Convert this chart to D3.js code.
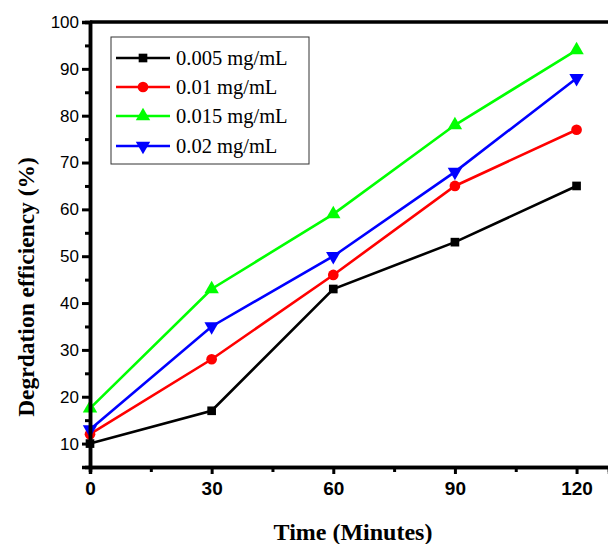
<!DOCTYPE html>
<html>
<head>
<meta charset="utf-8">
<script src="https://cdn.jsdelivr.net/npm/d3@7"></script>
<style>
  body { margin: 0; background: #fff; }
  svg { display: block; }
</style>
</head>
<body>
<div id="chart"></div>
<script>
// --- DATOS ---
const times = [0, 30, 60, 90, 120];
const seriesNames = ["0.005 mg/mL", "0.01 mg/mL", "0.015 mg/mL", "0.02 mg/mL"];
const conc005 = [10, 17, 43, 53, 65];
const conc01 = [12, 28, 46, 65, 77];
const conc015 = [17.5, 43, 59, 78, 94];
const conc02 = [13, 35, 50, 68, 88];
const xTicks = [0, 30, 60, 90, 120];
const yTicks = [10, 20, 30, 40, 50, 60, 70, 80, 90, 100];

const seriesValues = [conc005, conc01, conc015, conc02];
const colors = ["#000000", "#ff0000", "#00ff00", "#0000ff"];
const symbols = [d3.symbolSquare, d3.symbolCircle, d3.symbolTriangle, "down"];

const width = 608, height = 544;
const svg = d3.select("#chart").append("svg")
    .attr("width", width).attr("height", height);

// Escalas
const x = d3.scaleLinear().domain([0, 128]).range([90, 609]);
const y = d3.scaleLinear().domain([5, 100]).range([467, 22]);

// marcador
function marker(g, type, color, size) {
    if (type === "down") {
        g.append("path")
            .attr("d", d3.symbol(d3.symbolTriangle, size)())
            .attr("transform", "rotate(180)")
            .attr("fill", color);
    } else {
        g.append("path")
            .attr("d", d3.symbol(type, size)())
            .attr("fill", color);
    }
}

// --- SERIES ---
const line = d3.line().x((d, i) => x(times[i])).y(d => y(d));
seriesValues.forEach((vals, k) => {
    svg.append("path")
        .datum(vals)
        .attr("d", line)
        .attr("fill", "none")
        .attr("stroke", colors[k])
        .attr("stroke-width", 2.6);
    vals.forEach((v, i) => {
        const g = svg.append("g").attr("transform", `translate(${x(times[i])},${y(v)})`);
        marker(g, symbols[k], colors[k], k === 0 ? 75 : 90);
    });
});

// --- EJES ---
const xAxis = svg.append("g").attr("transform", `translate(0,${y(5)})`)
    .call(d3.axisBottom(x).tickValues(xTicks).tickSize(7).tickPadding(8));
const xMinor = svg.append("g").attr("transform", `translate(0,${y(5)})`)
    .call(d3.axisBottom(x).tickValues([15, 45, 75, 105]).tickSize(5).tickFormat(""));
const yAxis = svg.append("g").attr("transform", `translate(${x(0)},0)`)
    .call(d3.axisLeft(y).tickValues(yTicks).tickSize(8).tickPadding(3));
const yMinor = svg.append("g").attr("transform", `translate(${x(0)},0)`)
    .call(d3.axisLeft(y).tickValues([5, 15, 25, 35, 45, 55, 65, 75, 85, 95]).tickSize(5).tickFormat(""));

[xAxis, xMinor, yAxis, yMinor].forEach(a => {
    a.select(".domain").attr("stroke", "#000").attr("stroke-width", 3.5);
    a.selectAll(".tick line").attr("stroke", "#000").attr("stroke-width", 3);
});
xAxis.selectAll("text")
    .attr("font-family", "Liberation Sans, Arial, sans-serif")
    .attr("font-size", 19).attr("font-weight", "bold").attr("fill", "#000");
yAxis.selectAll("text")
    .attr("font-family", "Liberation Sans, Arial, sans-serif")
    .attr("font-size", 17).attr("fill", "#000");

// eje superior
svg.append("line")
    .attr("x1", x(0)).attr("x2", width)
    .attr("y1", y(100)).attr("y2", y(100))
    .attr("stroke", "#000").attr("stroke-width", 3.5);

// --- TITULOS ---
svg.append("text")
    .attr("x", 353).attr("y", 540)
    .attr("text-anchor", "middle")
    .attr("font-family", "Liberation Serif, Times New Roman, serif")
    .attr("font-weight", "bold").attr("font-size", 24)
    .text("Time (Minutes)");

svg.append("text")
    .attr("transform", "translate(34,287) rotate(-90)")
    .attr("text-anchor", "middle")
    .attr("font-family", "Liberation Serif, Times New Roman, serif")
    .attr("font-weight", "bold").attr("font-size", 23.5)
    .text("Degrdation efficiency (%)");

// --- LEYENDA ---
const legend = svg.append("g");
legend.append("rect")
    .attr("x", 111).attr("y", 37).attr("width", 198).attr("height", 127)
    .attr("fill", "none").attr("stroke", "#333").attr("stroke-width", 1);
const legendY = [58, 87, 116, 146];
seriesNames.forEach((name, k) => {
    const ly = legendY[k];
    legend.append("line")
        .attr("x1", 116).attr("x2", 170).attr("y1", ly).attr("y2", ly)
        .attr("stroke", colors[k]).attr("stroke-width", 2.6);
    const g = legend.append("g").attr("transform", `translate(143,${ly})`);
    marker(g, symbols[k], colors[k], k === 0 ? 75 : 90);
    legend.append("text")
        .attr("x", 176).attr("y", ly + 7)
        .attr("font-family", "Liberation Serif, Times New Roman, serif")
        .attr("font-size", 20.5).attr("fill", "#000")
        .text(name);
});
</script>
</body>
</html>
